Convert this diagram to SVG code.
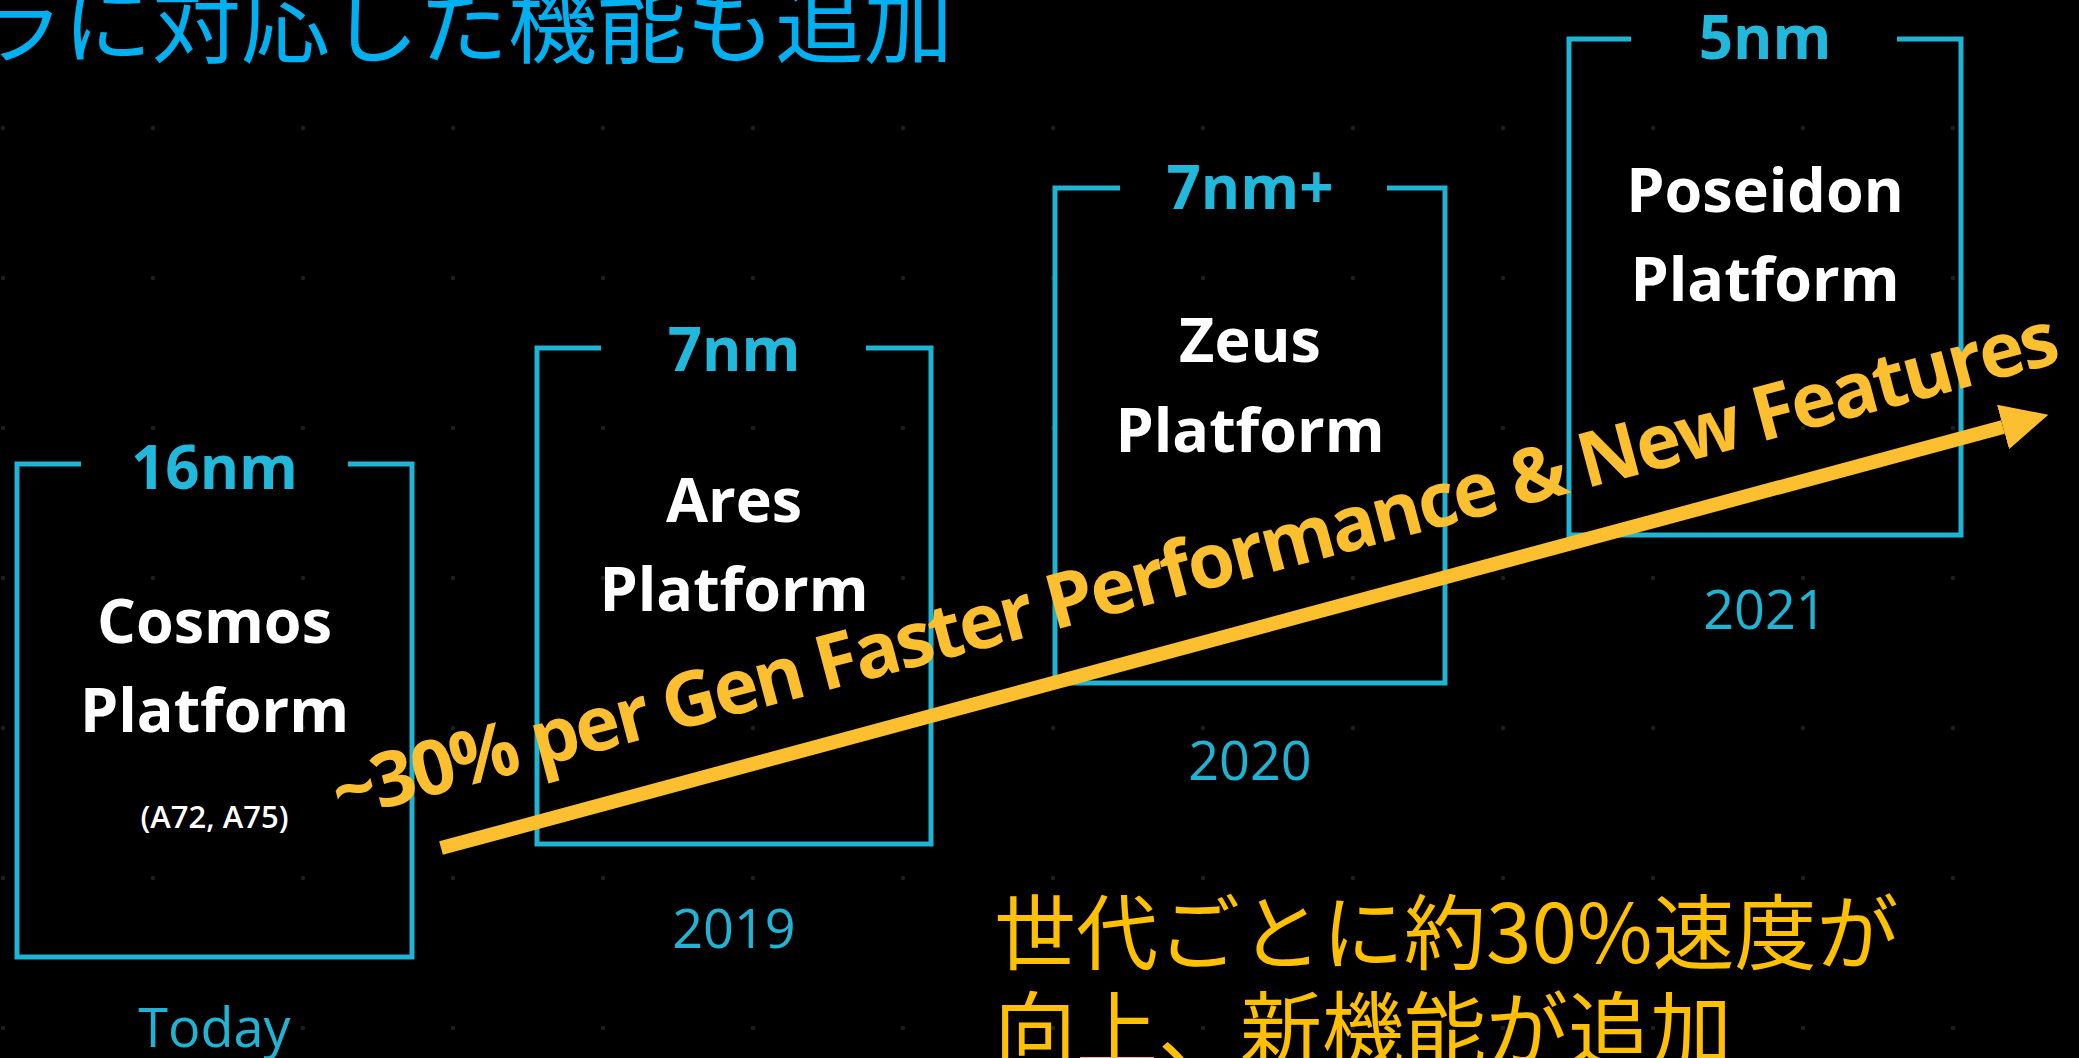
<svg xmlns="http://www.w3.org/2000/svg" width="2079" height="1058" viewBox="0 0 2079 1058">
  <defs>
    <pattern id="dots" patternUnits="userSpaceOnUse" x="0" y="0" width="150" height="150">
      <circle cx="3" cy="128" r="2.2" fill="#1e1e1e"/>
    </pattern>
    <marker id="head" markerUnits="userSpaceOnUse" markerWidth="50" markerHeight="50" refX="0" refY="23" orient="auto">
      <path d="M0,0 L47,23 L0,46 Z" fill="#fbbf2f"/>
    </marker>
    <style>
      .frame { fill: none; stroke: #1fb4d3; stroke-width: 5; }
      .lbl { font-family: "Open Sans", "Liberation Sans", sans-serif; font-weight: 700; font-size: 60px; fill: #22b8dc; text-anchor: middle; }
      .name { font-family: "Open Sans", "Liberation Sans", sans-serif; font-weight: 700; font-size: 61px; fill: #ffffff; text-anchor: middle; }
      .sub { font-family: "Open Sans", "Liberation Sans", sans-serif; font-weight: 600; font-size: 31px; fill: #ffffff; text-anchor: middle; }
      .year { font-family: "Open Sans", "Liberation Sans", sans-serif; font-weight: 400; font-size: 54px; fill: #1fb4d3; text-anchor: middle; }
      .jp { font-family: "Noto Sans CJK JP", "Noto Sans", sans-serif; font-weight: 400; }
      .trend { font-family: "Open Sans", "Liberation Sans", sans-serif; font-weight: 700; font-size: 76px; fill: #fbbf2f; }
    </style>
  </defs>

  <rect x="0" y="0" width="2079" height="1058" fill="#000000"/>
  <rect x="0" y="0" width="2079" height="1058" fill="url(#dots)"/>

  <text id="title" class="jp" x="-26" y="56" font-size="89" fill="#00b0f0">ラに対応した機能も追加</text>

  <g id="cosmos">
    <path class="frame" d="M81,464 H17 V957 H412 V464 H348"/>
    <text class="lbl" x="214.5" y="489">16nm</text>
    <text class="name" x="214.5" y="643">Cosmos</text>
    <text class="name" x="214.5" y="732">Platform</text>
    <text class="sub" x="214.5" y="828">(A72, A75)</text>
    <text class="year" x="214.5" y="1047">Today</text>
  </g>

  <g id="ares">
    <path class="frame" d="M601,348 H537 V844 H931 V348 H866"/>
    <text class="lbl" x="734" y="371">7nm</text>
    <text class="name" x="734" y="522">Ares</text>
    <text class="name" x="734" y="611">Platform</text>
    <text class="year" x="734" y="948">2019</text>
  </g>

  <g id="zeus">
    <path class="frame" d="M1120,188 H1055 V683 H1445 V188 H1387"/>
    <text class="lbl" x="1250" y="209">7nm+</text>
    <text class="name" x="1250" y="362">Zeus</text>
    <text class="name" x="1250" y="452">Platform</text>
    <text class="year" x="1250" y="780">2020</text>
  </g>

  <g id="poseidon">
    <path class="frame" d="M1631,39 H1569 V535 H1961 V39 H1897"/>
    <text class="lbl" x="1765" y="59">5nm</text>
    <text class="name" x="1765" y="212">Poseidon</text>
    <text class="name" x="1765" y="301">Platform</text>
    <text class="year" x="1765" y="629">2021</text>
  </g>

  <g id="connectors">
    <line x1="441" y1="848" x2="2003" y2="427" stroke="#fbbf2f" stroke-width="14" stroke-linecap="butt" marker-end="url(#head)"/>
  </g>

  <g id="trend-label">
    <text class="trend" transform="translate(340,820) rotate(-14.9)" x="0" y="0" textLength="1783" lengthAdjust="spacing">~30% per Gen Faster Performance &amp; New Features</text>
  </g>

  <g id="note" class="jp" font-size="82" fill="#ffc000">
    <text x="994" y="963">世代ごとに約30%速度が</text>
    <text x="994" y="1060">向上、新機能が追加</text>
  </g>
</svg>
